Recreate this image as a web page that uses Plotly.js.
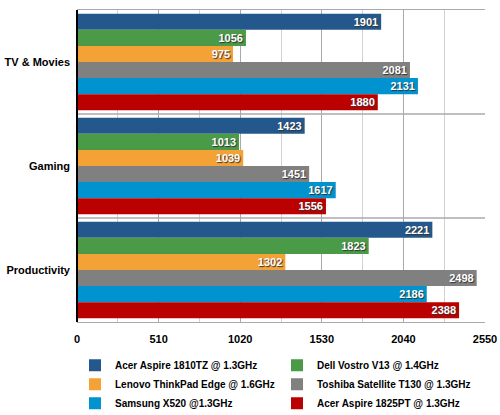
<!DOCTYPE html>
<html><head><meta charset="utf-8">
<script src="https://cdn.plot.ly/plotly-3.0.1.min.js"></script>
<style>html,body{margin:0;padding:0;background:#fff}#chart{width:500px;height:415px}</style>
</head><body><div id="chart"></div>
<script>
const categories = ["TV & Movies", "Gaming", "Productivity"];
const seriesNames = ["Acer Aspire 1810TZ @ 1.3GHz", "Dell Vostro V13 @ 1.4GHz", "Lenovo ThinkPad Edge @ 1.6GHz", "Toshiba Satellite T130 @ 1.3GHz", "Samsung X520 @1.3GHz", "Acer Aspire 1825PT @ 1.3GHz"];
const acer1810 = [1901, 1423, 2221];
const dell = [1056, 1013, 1823];
const lenovo = [975, 1039, 1302];
const toshiba = [2081, 1451, 2498];
const samsung = [2131, 1617, 2186];
const acer1825 = [1880, 1556, 2388];
const xTicks = [0, 510, 1020, 1530, 2040, 2550];
const colors = ["#24578b", "#4a9a48", "#f4a236", "#808080", "#0093d0", "#bb0000"];

const values = [acer1810, dell, lenovo, toshiba, samsung, acer1825];
const font = "Liberation Sans, Arial, sans-serif";
const traces = values.map((v, i) => ({
  type: "bar", orientation: "h",
  name: seriesNames[i], x: v, y: categories,
  marker: {color: colors[i], line: {width: 0}},
  text: v.map(String), textposition: "inside", insidetextanchor: "end", constraintext: "none",
  textfont: {family: font, size: 11, color: "#fff", weight: "bold", shadow: "1px 1px 1px #333"},
  hoverinfo: "none", cliponaxis: false
}));

const layout = {
  width: 500, height: 415,
  margin: {l: 77, r: 15, t: 10, b: 93, autoexpand: false},
  paper_bgcolor: "#fff", plot_bgcolor: "#fff",
  barmode: "group", bargap: 0.07, bargroupgap: 0,
  font: {family: font, size: 11, color: "#000", weight: "bold"},
  xaxis: {
    range: [0, 2550], tickvals: xTicks, ticktext: xTicks.map(String),
    showgrid: true, gridcolor: "#aaaaaa", gridwidth: 1,
    minor: {dtick: 255, tick0: 0, showgrid: true, gridcolor: "#d2d2d2", gridwidth: 1},
    zeroline: false, showline: true, linecolor: "#aaaaaa", linewidth: 1, mirror: true,
    ticks: "", ticklabelstandoff: 7,
    tickfont: {family: font, size: 11, weight: "bold", color: "#000"}, fixedrange: true
  },
  yaxis: {
    type: "category", autorange: "reversed",
    showgrid: false, zeroline: false, showline: false, ticks: "",
    ticklabelstandoff: 6,
    tickfont: {family: font, size: 11, weight: "bold", color: "#000"}, fixedrange: true
  },
  shapes: [
    {type: "line", xref: "paper", yref: "paper", x0: 0, x1: 1, y0: 1/3, y1: 1/3, line: {color: "#aaaaaa", width: 1.5}},
    {type: "line", xref: "paper", yref: "paper", x0: 0, x1: 1, y0: 2/3, y1: 2/3, line: {color: "#aaaaaa", width: 1.5}},
    {type: "line", xref: "paper", yref: "paper", x0: 0, x1: 0, y0: 0, y1: 1, line: {color: "#000", width: 2}}
  ],
  showlegend: true,
  legend: {
    orientation: "h", xref: "container", yref: "container",
    x: 0.15, xanchor: "left", y: 0.155, yanchor: "top",
    entrywidth: 157, entrywidthmode: "pixels", traceorder: "normal", itemwidth: 30,
    font: {family: font, size: 10, weight: "bold", color: "#000"},
    itemclick: false, itemdoubleclick: false, tracegroupgap: 0
  }
};
Plotly.newPlot("chart", traces, layout, {staticPlot: true, displayModeBar: false});
</script></body></html>
